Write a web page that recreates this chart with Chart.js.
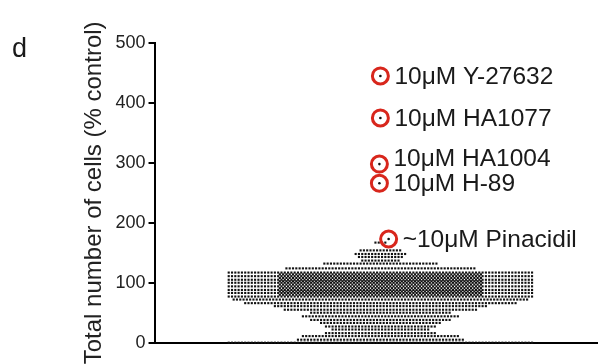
<!DOCTYPE html>
<html>
<head>
<meta charset="utf-8">
<script src="https://cdn.jsdelivr.net/npm/chart.js@4.4.1/dist/chart.umd.min.js"></script>
<style>
    html, body { margin: 0; padding: 0; background: #fff; }
    canvas { display: block; }
</style>
</head>
<body>
<canvas id="swarm-chart" width="598" height="364"></canvas>
<script>
// one row of the dot plot per value (% control), with how many compounds landed in it
let rowValues = [167, 154, 148, 143, 137, 132, 124,
                 117, 111, 105, 100, 94, 88, 83, 77, 72, 66,
                 114, 108, 102.5, 97, 91, 85.5, 80,
                 61, 55, 50, 44, 38, 33, 27, 22, 16, 11, 5, 0];
let rowCounts = [4, 13, 16, 14, 12, 35, 58,
                 93, 93, 93, 93, 93, 93, 93, 93, 90, 83,
                 62, 62, 62, 62, 62, 62, 62,
                 65, 59, 43, 48, 43, 37, 34, 30, 34, 48, 51, 93];

// compounds picked out with a red ring
let hitNames = ["10μM Y-27632", "10μM HA1077", "10μM HA1004", "10μM H-89", "~10μM Pinacidil"];
let hitValues = [445, 375, 298, 266, 173];
let hitColumn = [0, 0, -0.3, -0.3, 2.5];

let yTicks = [0, 100, 200, 300, 400, 500];

let dots = [];
rowValues.forEach(function (v, i) {
    let n = rowCounts[i];
    for (let j = 0; j < n; j++) {
        dots.push({x: j - (n - 1) / 2, y: v});
    }
});

let hits = hitValues.map(function (v, i) {
    return {x: hitColumn[i], y: v};
});

const labelFont = '"Liberation Sans", Arial, sans-serif';

const hitLabels = {
    id: 'hitLabels',
    afterDatasetsDraw: function (chart) {
        let ctx = chart.ctx;
        let xs = chart.scales.x;
        let ys = chart.scales.y;
        let nudge = [0, 0, -6, 0, 0]; // HA1004 text sits a bit above its ring
        ctx.save();
        ctx.fillStyle = '#1a1a1a';
        ctx.font = '24.5px ' + labelFont;
        ctx.textBaseline = 'alphabetic';
        hitNames.forEach(function (name, i) {
            let px = xs.getPixelForValue(hitColumn[i]) + 14;
            let py = ys.getPixelForValue(hitValues[i]) + 8 + nudge[i];
            ctx.fillText(name, px, py);
        });
        // panel letter
        ctx.font = '27px ' + labelFont;
        ctx.fillText('d', 12, 57);
        ctx.restore();
    }
};

new Chart(document.getElementById("swarm-chart"), {
    type: 'scatter',
    data: {
        datasets: [{
            label: "hit ring",
            data: hits,
            pointStyle: 'circle',
            pointRadius: 8,
            borderWidth: 3,
            borderColor: "#d8261c",
            backgroundColor: "rgba(0,0,0,0)",
            clip: false
        }, {
            label: "hit",
            data: hits,
            pointStyle: 'circle',
            pointRadius: 1.3,
            borderWidth: 0,
            backgroundColor: "#111",
            clip: false
        }, {
            label: "compounds",
            data: dots,
            pointStyle: 'rect',
            pointRadius: 1.5,
            borderWidth: 0,
            backgroundColor: "#111",
            clip: false
        }]
    },
    options: {
        responsive: false,
        animation: false,
        events: [],
        layout: {
            autoPadding: false,
            padding: {top: 43, left: 75.7, right: 0, bottom: 13.3}
        },
        plugins: {
            legend: {display: false},
            tooltip: {enabled: false}
        },
        scales: {
            x: {
                type: 'linear',
                min: -68.5,
                max: 66,
                grid: {display: false},
                ticks: {display: false},
                border: {display: true, color: '#000', width: 2}
            },
            y: {
                min: 0,
                max: 500,
                afterBuildTicks: function (scale) {
                    scale.ticks = yTicks.map(function (v) { return {value: v}; });
                },
                ticks: {
                    color: '#222',
                    padding: 3,
                    font: {family: labelFont, size: 18}
                },
                grid: {
                    drawOnChartArea: false,
                    drawTicks: true,
                    tickLength: 6,
                    color: '#000',
                    lineWidth: 2
                },
                border: {display: true, color: '#000', width: 2},
                title: {
                    display: true,
                    text: 'Total number of cells (% control)',
                    color: '#222',
                    font: {family: labelFont, size: 24},
                    padding: {top: 4, bottom: 4}
                }
            }
        }
    },
    plugins: [hitLabels]
});
</script>
</body>
</html>
